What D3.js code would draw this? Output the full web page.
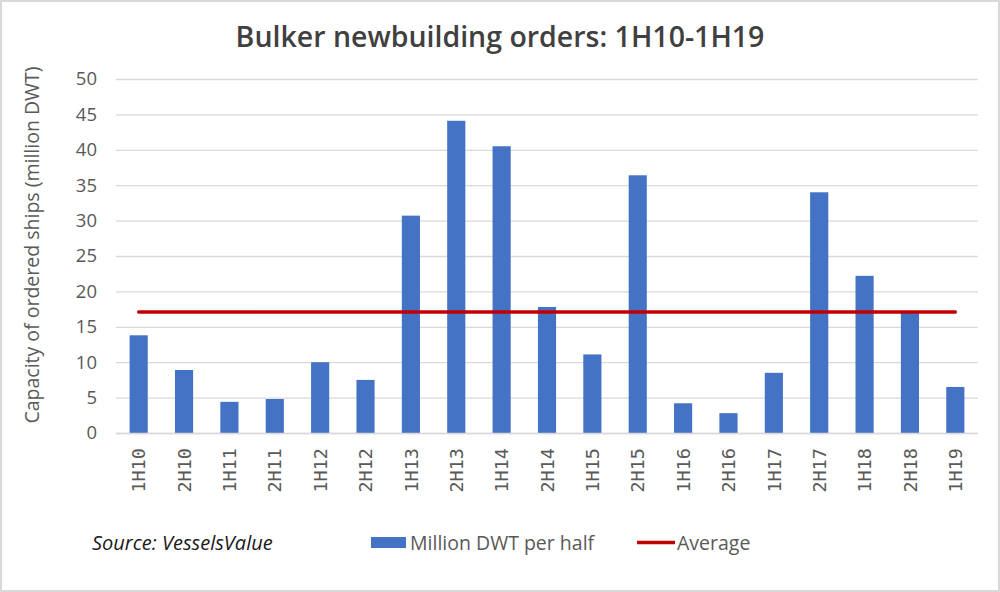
<!DOCTYPE html>
<html>
<head>
<meta charset="utf-8">
<script src="https://cdn.jsdelivr.net/npm/d3@7"></script>
<style>
  html, body { margin: 0; padding: 0; background: #fff; }
  svg { display: block; }
</style>
</head>
<body>
<script>
// ---- data ----
const categories = ["1H10","2H10","1H11","2H11","1H12","2H12","1H13","2H13","1H14","2H14",
                    "1H15","2H15","1H16","2H16","1H17","2H17","1H18","2H18","1H19"];
const values = [13.8, 8.9, 4.4, 4.8, 10.0, 7.5, 30.7, 44.1, 40.5, 17.8,
                11.1, 36.4, 4.2, 2.8, 8.5, 34.0, 22.2, 17.1, 6.5];
const averageValue = 17.1;
const yTicks = [0, 5, 10, 15, 20, 25, 30, 35, 40, 45, 50];
const titleText = "Bulker newbuilding orders: 1H10-1H19";
const yTitle = "Capacity of ordered ships (million DWT)";
const sourceText = "Source: VesselsValue";
const legendLabels = ["Million DWT per half", "Average"];

// ---- layout ----
const W = 1000, H = 592;
const plot = { left: 116, right: 978, top: 79, bottom: 433 };

const svg = d3.select("body").append("svg").attr("width", W).attr("height", H);

// border
svg.append("rect").attr("x", 1).attr("y", 1).attr("width", W - 2).attr("height", H - 2)
  .attr("fill", "#fff").attr("stroke", "#d9d9d9").attr("stroke-width", 2);

const x = d3.scaleBand().domain(categories).range([plot.left, plot.right])
  .paddingInner(0.6).paddingOuter(0.3);
const y = d3.scaleLinear().domain([0, 50]).range([plot.bottom, plot.top]);

// gridlines
svg.append("g").selectAll("line").data(yTicks).join("line")
  .attr("x1", plot.left).attr("x2", plot.right)
  .attr("y1", d => y(d) + 0.5).attr("y2", d => y(d) + 0.5)
  .attr("stroke", "#d9d9d9").attr("stroke-width", 1.3);

// y axis labels
const yAxis = d3.axisLeft(y).tickValues(yTicks).tickSize(0).tickPadding(0);
const yg = svg.append("g").attr("transform", `translate(${plot.left - 19},0)`).call(yAxis);
yg.select(".domain").remove();
yg.selectAll("text").attr("font-family", "'Open Sans', sans-serif").attr("font-size", 18.5)
  .attr("fill", "#595959");

// bars
svg.append("g").selectAll("rect").data(values).join("rect")
  .attr("x", (d, i) => x(categories[i]))
  .attr("width", x.bandwidth())
  .attr("y", d => y(d))
  .attr("height", d => y(0) - y(d))
  .attr("fill", "#4472C4");

// baseline
svg.append("line").attr("x1", plot.left).attr("x2", plot.right)
  .attr("y1", y(0) + 0.5).attr("y2", y(0) + 0.5)
  .attr("stroke", "#d9d9d9").attr("stroke-width", 1.3);

// average line
const avgLine = d3.line().x(d => x(d) + x.bandwidth() / 2).y(() => y(averageValue));
svg.append("path").datum(categories).attr("d", avgLine)
  .attr("fill", "none").attr("stroke", "#C00000").attr("stroke-width", 3.5)
  .attr("stroke-linecap", "round");

// x axis labels
const xAxis = d3.axisBottom(x).tickSize(0).tickPadding(0);
const xg = svg.append("g").attr("transform", `translate(0,${plot.bottom})`).call(xAxis);
xg.select(".domain").remove();
xg.selectAll("text")
  .attr("font-family", "'DejaVu Sans Mono', monospace").attr("font-size", 18.5)
  .attr("fill", "#595959")
  .attr("text-anchor", "end")
  .attr("transform", "rotate(-90)")
  .attr("x", -15).attr("y", 0).attr("dy", "0.36em");

// title
svg.append("text").attr("x", 500).attr("y", 47).attr("text-anchor", "middle")
  .attr("font-family", "'Open Sans', sans-serif").attr("font-weight", 600)
  .attr("font-size", 28.5).attr("fill", "#404040").text(titleText);

// y title
svg.append("text").attr("transform", `translate(39,245) rotate(-90)`)
  .attr("text-anchor", "middle")
  .attr("font-family", "'Open Sans', sans-serif").attr("font-size", 19.5)
  .attr("fill", "#595959").text(yTitle);

// source
svg.append("text").attr("x", 92).attr("y", 550)
  .attr("font-family", "'Open Sans', sans-serif").attr("font-style", "italic")
  .attr("font-size", 20).attr("fill", "#1a1a1a").text(sourceText);

// legend
const lg = svg.append("g");
lg.append("rect").attr("x", 371).attr("y", 537).attr("width", 35).attr("height", 11).attr("fill", "#4472C4");
lg.append("text").attr("x", 410).attr("y", 550)
  .attr("font-family", "'Open Sans', sans-serif").attr("font-size", 19.5)
  .attr("fill", "#595959").text(legendLabels[0]);
lg.append("line").attr("x1", 637).attr("x2", 675).attr("y1", 542.5).attr("y2", 542.5)
  .attr("stroke", "#C00000").attr("stroke-width", 3.5);
lg.append("text").attr("x", 677).attr("y", 550)
  .attr("font-family", "'Open Sans', sans-serif").attr("font-size", 19.5)
  .attr("fill", "#595959").text(legendLabels[1]);
</script>
</body>
</html>
